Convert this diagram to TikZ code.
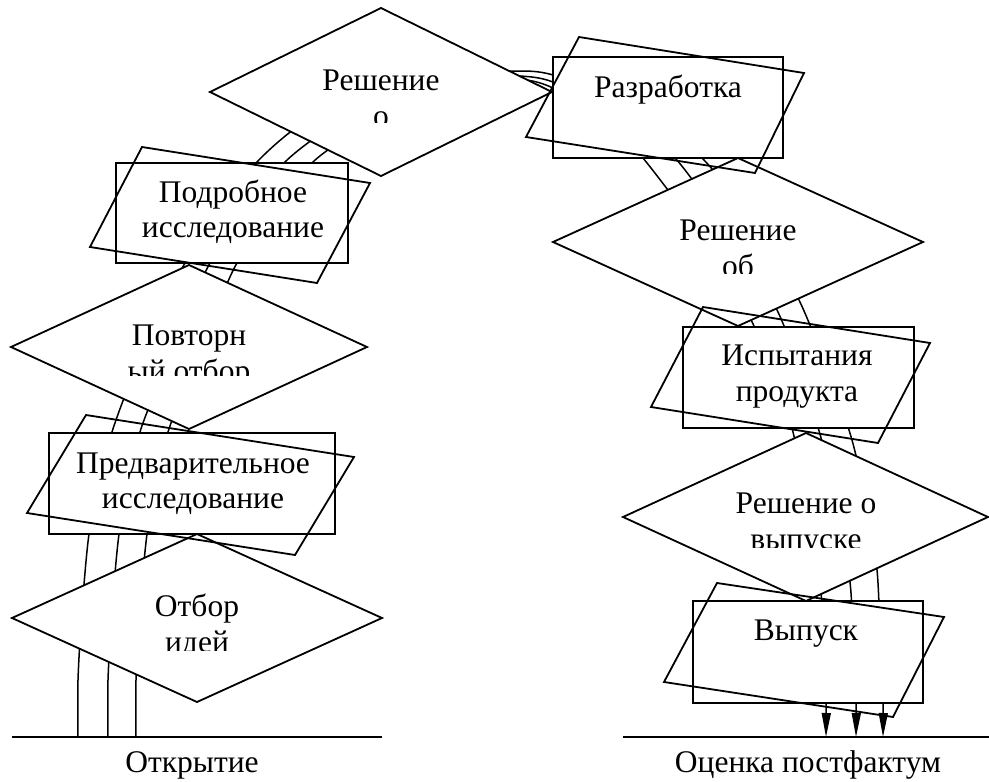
\documentclass[tikz,border=0pt]{standalone}
\usepackage{fontspec}
\setmainfont{Liberation Serif}
\usetikzlibrary{arrows.meta}
\begin{document}
\begin{tikzpicture}[x=1pt,y=-1pt,
  shapeline/.style={line width=1.8pt, line join=miter},
  boxfill/.style={shapeline, fill=white},
  tiltbox/.style={shapeline},
  archline/.style={line width=1.5pt},
  archtip/.style={-{Triangle[length=24pt,width=9pt]}},
  txt/.style={font=\fontsize{31.5}{36}\selectfont, inner sep=0pt, anchor=base},
  baseline/.style={line width=1.8pt}]
\useasboundingbox (0,0) rectangle (989,782);

% ---- arch of three lines (drawn first, hidden behind filled shapes)
\draw[archline, archtip] plot[smooth, tension=0.5] coordinates {
 (78,737) (78,680) (82,610) (89,534) (100,483) (112,432) (135,370) (160,315)
 (185,263) (220,210) (257,162) (300,125) (355,97) (420,80) (480,74) (515,71)
 (553,75) (630,105) (702,158) (755,228) (798,298) (830,377) (852,440)
 (868,512) (877,570) (880,630) (883,690) (883,737)};
\draw[archline, archtip] plot[smooth, tension=0.5] coordinates {
 (108,737) (108,680) (112,610) (119,534) (129,483) (140,432) (160,380) (185,320)
 (210,263) (247,210) (285,162) (330,128) (385,102) (440,86) (490,77) (520,76)
 (553,82) (615,112) (675,158) (735,242) (777,310) (802,377) (823,445)
 (838,512) (850,582) (853,640) (856,690) (856,737)};
\draw[archline, archtip] plot[smooth, tension=0.5] coordinates {
 (136,737) (136,680) (140,610) (147,534) (157,483) (168,432) (190,375) (213,318)
 (237,263) (275,210) (313,162) (355,133) (405,110) (452,95) (495,84) (525,80)
 (553,88) (600,115) (643,158) (715,255) (754,326) (773,377) (792,428)
 (809,515) (821,593) (823,650) (826,690) (826,737)};

% ---- filled boxes
\draw[boxfill] (553,57) rectangle (783,158);
\draw[boxfill] (116,163) rectangle (348,263);
\draw[boxfill] (49,433) rectangle (335,534);
\draw[boxfill] (683,327) rectangle (914,428);
\draw[boxfill] (693,601) rectangle (923,703);

% ---- diamonds
\draw[boxfill] (210,92) -- (381,8) -- (552,92) -- (381,176) -- cycle;
\draw[boxfill] (11,347) -- (189,265) -- (367,347) -- (189,429) -- cycle;
\draw[boxfill] (12,618) -- (197,534) -- (382,618) -- (197,702) -- cycle;
\draw[boxfill] (553,242) -- (738,158) -- (923,242) -- (738,326) -- cycle;
\draw[boxfill] (623,517) -- (806,433) -- (988,517) -- (806,601) -- cycle;

% ---- tilted outlines
\draw[tiltbox] (579,37) -- (804,73) -- (755,173) -- (526,137) -- cycle;
\draw[tiltbox] (142,147) -- (370,183) -- (317,283) -- (90,247) -- cycle;
\draw[tiltbox] (86,415) -- (354,457) -- (295,555) -- (27,513) -- cycle;
\draw[tiltbox] (703,307) -- (930,343) -- (878,443) -- (651,407) -- cycle;
\draw[tiltbox] (717,583) -- (944,617) -- (893,717) -- (664,682) -- cycle;

% ---- box texts
\node[txt] (razr) at (668,97) {Разработка};
\node[txt] (podr1) at (233,202) {Подробное};
\node[txt] (podr2) at (233,237) {исследование};
\node[txt] (pred1) at (193,473) {Предварительное};
\node[txt] (pred2) at (193,508) {исследование};
\node[txt] (isp1) at (797,365) {Испытания};
\node[txt] (isp2) at (797,401) {продукта};
\node[txt] (vyp) at (806,640) {Выпуск};

% ---- diamond texts (second line cut off)
\node[txt] (d1a) at (381,90) {Решение};
\begin{scope}
  \clip (250,100) rectangle (510,122.5);
  \node[txt] (d1b) at (381,126) {о};
\end{scope}
\node[txt] (d2a) at (189,345) {Повторн};
\begin{scope}
  \clip (60,355) rectangle (320,375.5);
  \node[txt] (d2b) at (189,381) {ый отбор};
\end{scope}
\node[txt] (d3a) at (197,616) {Отбор};
\begin{scope}
  \clip (60,625) rectangle (330,650);
  \node[txt] (d3b) at (197,652) {идей};
\end{scope}
\node[txt] (d4a) at (738,240) {Решение};
\begin{scope}
  \clip (600,250) rectangle (880,273);
  \node[txt] (d4b) at (738,276) {об};
\end{scope}
\node[txt] (d5a) at (806,513) {Решение о};
\begin{scope}
  \clip (660,525) rectangle (950,547.5);
  \node[txt] (d5b) at (806,549) {выпуске};
\end{scope}

% ---- base lines and labels
\coordinate (bl1) at (12,737);
\coordinate (bl2) at (382,737);
\coordinate (br1) at (623,737);
\coordinate (br2) at (989,737);
\draw[baseline] (bl1) -- (bl2);
\draw[baseline] (br1) -- (br2);
\node[txt] (open) at (192,772) {Открытие};
\node[txt] (post) at (808,772) {Оценка постфактум};
\end{tikzpicture}
\end{document}
